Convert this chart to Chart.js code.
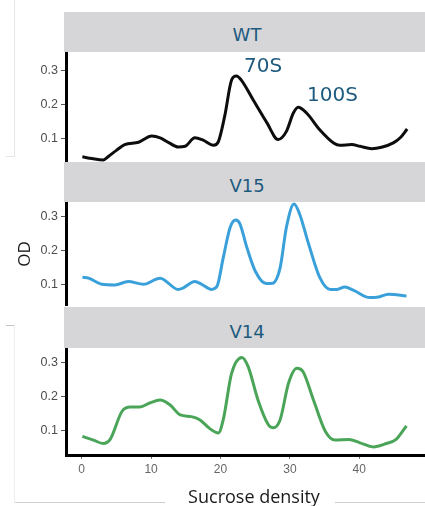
<!DOCTYPE html>
<html>
<head>
<meta charset="utf-8">
<script src="https://cdn.jsdelivr.net/npm/chart.js@4.4.1/dist/chart.umd.min.js"></script>
<style>
  html, body { margin: 0; padding: 0; background: #fff; overflow: hidden; }
  #figura { position: relative; width: 425px; height: 506px; overflow: hidden; }
  canvas { position: absolute; left: 0; }
  .faixa { position: absolute; left: 64px; width: 370px; background: #d6d6d8; }
  .titulo { position: absolute; left: 64px; width: 366px; text-align: center;
    font: 18px "DejaVu Sans", Verdana, sans-serif; line-height: 18px; color: #1d5a7e; }
  .pico { position: absolute; font: 20px "DejaVu Sans", Verdana, sans-serif; line-height: 20px; color: #1d5a7e; }
  .linha-fina { position: absolute; background: #e6e6e6; }
</style>
</head>
<body>
<div id="figura">
  <div class="linha-fina" style="left:14px;top:0;width:1px;height:156px"></div>
  <div class="linha-fina" style="left:6px;top:156px;width:9px;height:1px"></div>
  <div class="linha-fina" style="left:6px;top:325px;width:9px;height:1px;background:#c4c4c4"></div>
  <div class="linha-fina" style="left:14px;top:325px;width:1px;height:177px;background:#eeeeee"></div>
  <div class="linha-fina" style="left:15px;top:502px;width:150px;height:1px;background:#cfcfcf"></div>
  <div class="linha-fina" style="left:335px;top:502px;width:90px;height:1px;background:#cfcfcf"></div>

  <div class="faixa" style="top:12px;height:40px"></div>
  <div class="titulo" style="top:25.5px">WT</div>
  <div class="faixa" style="top:162px;height:40px"></div>
  <div class="titulo" style="top:177px">V15</div>
  <div class="faixa" style="top:307px;height:41px"></div>
  <div class="titulo" style="top:322.5px">V14</div>

  <canvas id="grafico-wt" width="425" height="110" style="top:52px"></canvas>
  <canvas id="grafico-v15" width="425" height="104" style="top:202px"></canvas>
  <canvas id="grafico-v14" width="425" height="137" style="top:348px"></canvas>

  <div class="pico" style="left:244px;top:55.4px">70S</div>
  <div class="pico" style="left:307px;top:84px">100S</div>

  <div style="position:absolute;left:154px;top:487px;width:200px;text-align:center;font:18px 'Open Sans',sans-serif;line-height:18px;color:#1a1a1a">Sucrose density</div>
  <div style="position:absolute;left:-6px;top:244px;width:60px;height:20px;text-align:center;font:17px 'Open Sans',sans-serif;line-height:20px;color:#1a1a1a;transform:rotate(-90deg)">OD</div>
</div>

<script>
// posicoes no gradiente (eixo x) e OD
const wtX  = [0.1, 1.5, 3.1, 3.9, 5.0, 6.2, 8.2, 10.1, 11.3, 12.6, 13.9, 14.9, 16.3, 17.5, 19.0, 19.7, 20.6, 21.6, 22.3, 23.0, 24.7, 26.7, 28.3, 29.5, 30.5, 31.2, 32.4, 34.3, 36.3, 37.2, 38.9, 40.1, 41.8, 43.2, 44.9, 45.9, 46.9];
const wtOD = [0.047, 0.042, 0.038, 0.049, 0.066, 0.083, 0.090, 0.108, 0.103, 0.088, 0.076, 0.078, 0.103, 0.096, 0.081, 0.092, 0.166, 0.273, 0.285, 0.273, 0.215, 0.147, 0.098, 0.122, 0.176, 0.193, 0.176, 0.127, 0.088, 0.081, 0.083, 0.078, 0.071, 0.075, 0.088, 0.103, 0.129];

const v15X  = [0.1, 1.0, 2.9, 4.8, 6.7, 8.9, 11.3, 13.9, 14.6, 16.3, 17.3, 18.7, 19.5, 20.4, 21.4, 22.2, 22.8, 23.8, 25.0, 26.6, 27.5, 28.6, 29.5, 30.6, 31.4, 32.7, 34.3, 35.8, 36.8, 37.9, 39.2, 41.5, 42.8, 44.2, 46.8];
const v15OD = [0.123, 0.120, 0.102, 0.100, 0.110, 0.102, 0.120, 0.087, 0.091, 0.110, 0.102, 0.087, 0.096, 0.180, 0.269, 0.290, 0.279, 0.210, 0.141, 0.104, 0.105, 0.151, 0.269, 0.337, 0.308, 0.220, 0.122, 0.087, 0.087, 0.094, 0.084, 0.063, 0.065, 0.073, 0.068];

const v14X  = [0.1, 1.7, 3.1, 4.1, 5.8, 7.0, 8.4, 9.8, 11.3, 12.7, 14.2, 15.8, 17.0, 18.5, 19.7, 20.4, 21.6, 23.1, 24.0, 25.4, 26.9, 27.6, 28.6, 29.8, 31.0, 31.9, 33.4, 35.1, 36.5, 38.5, 40.1, 42.0, 43.9, 45.3, 46.8];
const v14OD = [0.082, 0.071, 0.061, 0.073, 0.155, 0.168, 0.168, 0.180, 0.189, 0.175, 0.145, 0.140, 0.131, 0.104, 0.092, 0.131, 0.267, 0.314, 0.286, 0.189, 0.116, 0.107, 0.131, 0.238, 0.282, 0.272, 0.189, 0.097, 0.071, 0.073, 0.063, 0.051, 0.061, 0.073, 0.113];

const xTicks = [0, 10, 20, 30, 40];
const yTicks = [0.1, 0.2, 0.3];

function criarPainel(canvas, xs, ys, cor, yMin, yMax, mostrarEixoX) {
  new Chart(canvas, {
    type: "line",
    data: {
      datasets: [{
        data: xs.map((x, i) => ({ x: x, y: ys[i] })),
        borderColor: cor,
        borderWidth: 3,
        pointRadius: 0,
        cubicInterpolationMode: "monotone",
        fill: false,
      }],
    },
    options: {
      responsive: false,
      animation: false,
      devicePixelRatio: 1,
      layout: { padding: 0 },
      plugins: { legend: { display: false }, tooltip: { enabled: false } },
      scales: {
        x: {
          type: "linear",
          min: -2.26,
          max: 49.47,
          display: mostrarEixoX,
          afterBuildTicks: (s) => { s.ticks = xTicks.map((v) => ({ value: v })); },
          afterFit: (s) => {
            s.height = mostrarEixoX ? 30 : 0;
            s.paddingLeft = 0;
            s.paddingRight = 0;
          },
          ticks: { color: "#666", padding: 3, maxRotation: 0, font: { family: "Liberation Sans, Arial", size: 12 } },
          grid: { drawOnChartArea: false, tickLength: 4, color: "#777" },
          border: { color: "#000", width: 3 },
        },
        y: {
          min: yMin,
          max: yMax,
          afterBuildTicks: (s) => { s.ticks = yTicks.map((v) => ({ value: v })); },
          afterFit: (s) => { s.width = 66; s.paddingTop = 0; s.paddingBottom = 0; },
          ticks: {
            color: "#4d4d4d",
            padding: 3,
            font: { family: "Liberation Sans, Arial", size: 12.5 },
            callback: (v) => v.toFixed(1),
          },
          grid: { drawOnChartArea: false, tickLength: 5, color: "#555" },
          border: { color: "#000", width: 3 },
        },
      },
    },
  });
}

criarPainel(document.getElementById("grafico-wt"), wtX, wtOD, "#0d0d0d", 0.0318, 0.3556, false);
criarPainel(document.getElementById("grafico-v15"), v15X, v15OD, "#3aa0da", 0.0384, 0.343, false);
criarPainel(document.getElementById("grafico-v14"), v14X, v14OD, "#4aa559", 0.0272, 0.3416, true);
</script>
</body>
</html>
